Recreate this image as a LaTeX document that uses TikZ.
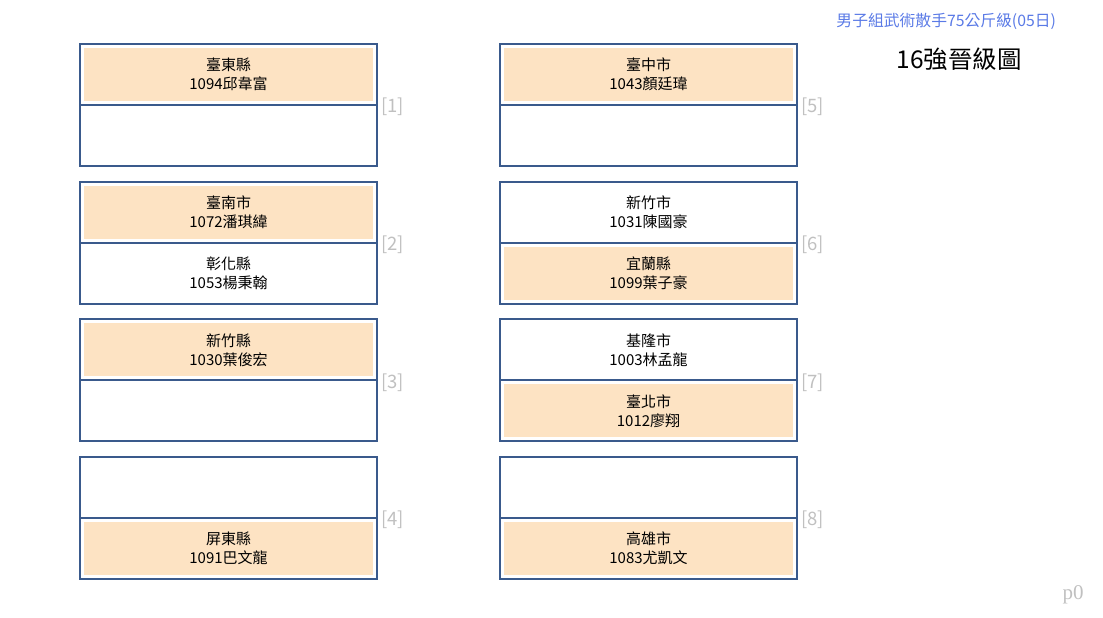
\documentclass[tikz,border=0pt]{standalone}
\usepackage{fontspec}
\setmainfont{Noto Sans CJK TC}
\newfontfamily\pagefont{Liberation Serif}
\usetikzlibrary{positioning}
\definecolor{frameblue}{RGB}{58,90,140}
\definecolor{winpeach}{RGB}{253,227,195}
\definecolor{seedgray}{RGB}{192,192,192}
\definecolor{titleblue}{RGB}{90,122,230}

\begin{document}
\begin{tikzpicture}[
        x=1pt, y=-1pt,
        every node/.style={align=center, inner sep=0pt, outer sep=0pt},
        slot/.style = {draw=frameblue,
                       line width=2pt,
                       minimum width=297pt,
                       minimum height=61pt,
                       font=\fontsize{15pt}{19pt}\selectfont},
        winner/.style = {slot,
                         path picture={\fill[winpeach]
                            ([shift={(4pt,-4pt)}]path picture bounding box.north west) rectangle
                            ([shift={(-4pt,4pt)}]path picture bounding box.south east);}},
        seed/.style = {text=seedgray, inner sep=1pt, yshift=-2pt,
                       font=\fontsize{18.5pt}{18.5pt}\selectfont}
        ]
        \useasboundingbox (0,0) rectangle (1103,618);
        \node[titleblue, anchor=east, font=\fontsize{15.8pt}{15.8pt}\selectfont] (Event) at (1056,21) {男子組武術散手75公斤級(05日)};
        \node[font=\fontsize{24.5pt}{24.5pt}\selectfont] (Round) at (959,59) {16強晉級圖};
        \node[text=seedgray, font=\pagefont\fontsize{21pt}{21pt}\selectfont] (Page) at (1073,595) {p0};

        \node[winner] (Box1Top) at (228.5,74.5) {臺東縣\\1094邱韋富};
        \node[slot] [below = 0pt of Box1Top] (Box1Bottom) {};
        \node[winner] [below = 15.7pt of Box1Bottom] (Box2Top) {臺南市\\1072潘琪緯};
        \node[slot] [below = 0pt of Box2Top] (Box2Bottom) {彰化縣\\1053楊秉翰};
        \node[winner] [below = 15.7pt of Box2Bottom] (Box3Top) {新竹縣\\1030葉俊宏};
        \node[slot] [below = 0pt of Box3Top] (Box3Bottom) {};
        \node[slot] [below = 15.7pt of Box3Bottom] (Box4Top) {};
        \node[winner] [below = 0pt of Box4Top] (Box4Bottom) {屏東縣\\1091巴文龍};

        \node[winner] [right = 123pt of Box1Top] (Box5Top) {臺中市\\1043顏廷瑋};
        \node[slot] [below = 0pt of Box5Top] (Box5Bottom) {};
        \node[slot] [below = 15.7pt of Box5Bottom] (Box6Top) {新竹市\\1031陳國豪};
        \node[winner] [below = 0pt of Box6Top] (Box6Bottom) {宜蘭縣\\1099葉子豪};
        \node[slot] [below = 15.7pt of Box6Bottom] (Box7Top) {基隆市\\1003林孟龍};
        \node[winner] [below = 0pt of Box7Top] (Box7Bottom) {臺北市\\1012廖翔};
        \node[slot] [below = 15.7pt of Box7Bottom] (Box8Top) {};
        \node[winner] [below = 0pt of Box8Top] (Box8Bottom) {高雄市\\1083尤凱文};

        \node[seed] [right = 3pt of Box1Top.south east] (Seed1) {[1]};
        \node[seed] [right = 3pt of Box2Top.south east] (Seed2) {[2]};
        \node[seed] [right = 3pt of Box3Top.south east] (Seed3) {[3]};
        \node[seed] [right = 3pt of Box4Top.south east] (Seed4) {[4]};
        \node[seed] [right = 3pt of Box5Top.south east] (Seed5) {[5]};
        \node[seed] [right = 3pt of Box6Top.south east] (Seed6) {[6]};
        \node[seed] [right = 3pt of Box7Top.south east] (Seed7) {[7]};
        \node[seed] [right = 3pt of Box8Top.south east] (Seed8) {[8]};
    \end{tikzpicture}
\end{document}
